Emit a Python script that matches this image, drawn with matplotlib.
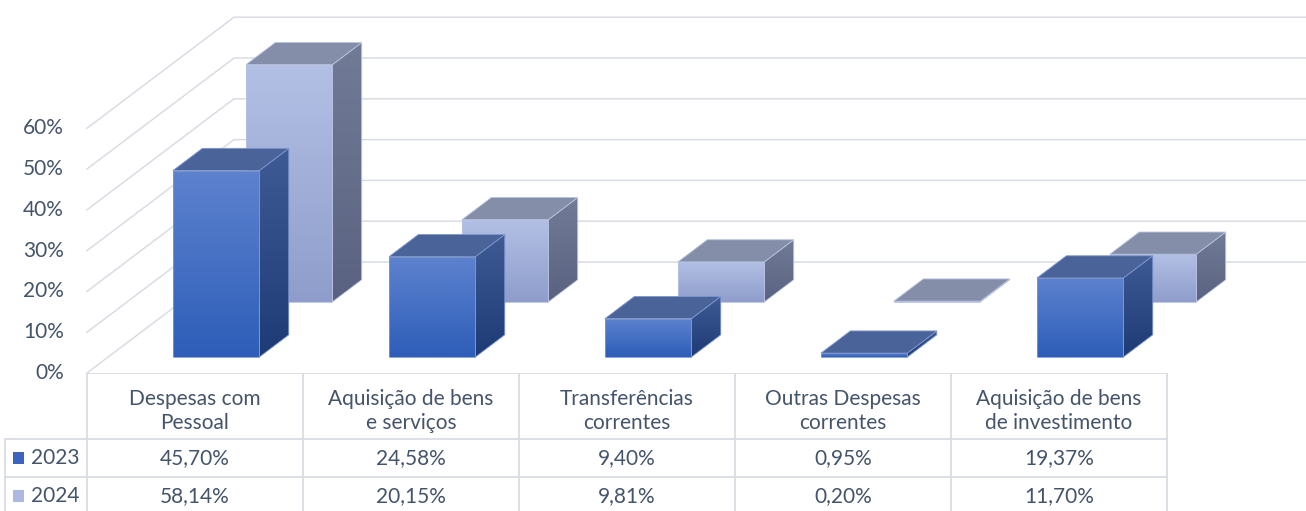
import numpy as np
import matplotlib.pyplot as plt
from matplotlib.patches import Polygon, Rectangle
from matplotlib.colors import LinearSegmentedColormap

# ---------------- data ----------------
categories = ["Despesas com\nPessoal", "Aquisição de bens\ne serviços",
              "Transferências\ncorrentes", "Outras Despesas\ncorrentes",
              "Aquisição de bens\nde investimento"]
series = ["2023", "2024"]
v2023 = [45.70, 24.58, 9.40, 0.95, 19.37]
v2024 = [58.14, 20.15, 9.81, 0.20, 11.70]
labels2023 = ["45,70%", "24,58%", "9,40%", "0,95%", "19,37%"]
labels2024 = ["58,14%", "20,15%", "9,81%", "0,20%", "11,70%"]
yticks = [0, 10, 20, 30, 40, 50, 60]

plt.rcParams['font.family'] = ['Lato', 'DejaVu Sans']
TXT = '#44546A'
GRID = '#D9DCE3'
FS = 15

W, H = 1306, 511
fig = plt.figure(figsize=(W / 100, H / 100), dpi=100)
ax = fig.add_axes([0, 0, 1, 1])
ax.axis('off')

# scale: one category = 216 px, 1% = 4.08 px, floor front edge at x=87, y=373
PX_CAT, PX_PCT, X0, Y0 = 216, 4.08, 87, 373
xlim = (-X0 / PX_CAT, (W - X0) / PX_CAT)
ylim = (-(H - Y0) / PX_PCT, Y0 / PX_PCT)
# depth axis (oblique)
DX, DY = 147 / PX_CAT, 111 / PX_PCT


def proj(c, v, z):
    return (c + z * DX, v + z * DY)


# ---------------- walls / gridlines ----------------
n = len(categories)
for t in yticks:
    p0 = proj(0, t, 0)
    p1 = proj(0, t, 1)
    p2 = proj(n + 1, t, 1)
    ax.plot([p0[0], p1[0], p2[0]], [p0[1], p1[1], p2[1]], color=GRID, lw=1.1, zorder=1)
    ax.text(-23 / PX_CAT, t, f"{t}%", ha='right', va='center', color=TXT, fontsize=FS)

# ---------------- bars ----------------
zc = [10]


def grad_face(pts, c1, c2, edge):
    z = zc[0]
    zc[0] += 1
    poly = Polygon(pts, closed=True, facecolor='none', edgecolor=edge, lw=0.6, zorder=z + 0.5)
    ax.add_patch(poly)
    xs = [p[0] for p in pts]
    ys = [p[1] for p in pts]
    cmap = LinearSegmentedColormap.from_list('g', [c1, c2])
    im = ax.imshow(np.linspace(0, 1, 64).reshape(-1, 1), cmap=cmap, origin='upper',
                   extent=[min(xs), max(xs), min(ys), max(ys)], aspect='auto',
                   interpolation='bilinear', zorder=z)
    im.set_clip_path(poly)


def bar3d(c, v, zf, zb, col):
    x0, x1 = c + 0.3, c + 0.7
    front = [proj(x0, 0, zf), proj(x1, 0, zf), proj(x1, v, zf), proj(x0, v, zf)]
    side = [proj(x1, 0, zf), proj(x1, 0, zb), proj(x1, v, zb), proj(x1, v, zf)]
    top = [proj(x0, v, zf), proj(x1, v, zf), proj(x1, v, zb), proj(x0, v, zb)]
    grad_face(side, col['s1'], col['s2'], col['edge'])
    grad_face(front, col['f1'], col['f2'], col['edge'])
    z = zc[0]
    zc[0] += 1
    ax.add_patch(Polygon(top, closed=True, facecolor=col['top'], edgecolor=col['edge'],
                         lw=0.6, zorder=z))


c2023 = dict(f1='#5D82CE', f2='#2E5EB9', s1='#3E5B96', s2='#1F3B75', top='#4A6399', edge='#7F97CF')
c2024 = dict(f1='#B3C0E5', f2='#8E9DCB', s1='#717B96', s2='#5A6281', top='#858EA9', edge='#B8C3E2')

for i, v in enumerate(v2024):
    bar3d(i, v, 0.64, 0.84, c2024)
for i, v in enumerate(v2023):
    bar3d(i, v, 0.144, 0.344, c2023)

ax.set_xlim(*xlim)
ax.set_ylim(*ylim)

# ---------------- data table ----------------
tax = fig.add_axes([0, 0, 1, (H - Y0) / H])
tax.axis('off')
tax.set_xlim(*xlim)
tax.set_ylim(H - Y0, 0)
rows = [0, 66, 104, 142]
lx = -82 / PX_CAT
tax.plot([0, n], [0, 0], color=GRID, lw=1.3)
for r in rows[1:3]:
    tax.plot([lx, n], [r, r], color=GRID, lw=1.3)
for i in range(n + 1):
    tax.plot([i, i], [0, rows[-1]], color=GRID, lw=1.3)
tax.plot([lx, lx], [rows[1], rows[-1]], color=GRID, lw=1.3)

for i, cat in enumerate(categories):
    tax.text(i + 0.5, 38, cat, ha='center', va='center', color=TXT, fontsize=FS, linespacing=1.3)
    tax.text(i + 0.5, 85, labels2023[i], ha='center', va='center', color=TXT, fontsize=FS)
    tax.text(i + 0.5, 123, labels2024[i], ha='center', va='center', color=TXT, fontsize=FS)

key_cols = [('#3C64BE', '#2E5EB9'), ('#ADB9E0', '#97A5D0')]
for k, (name, r) in enumerate(zip(series, [85, 123])):
    tax.add_patch(Rectangle((-74 / PX_CAT, r - 6), 11 / PX_CAT, 12, facecolor=key_cols[k][0],
                            edgecolor='none'))
    tax.text(-56 / PX_CAT, r, name, ha='left', va='center', color=TXT, fontsize=FS)

fig.savefig('out.png', dpi=100)
